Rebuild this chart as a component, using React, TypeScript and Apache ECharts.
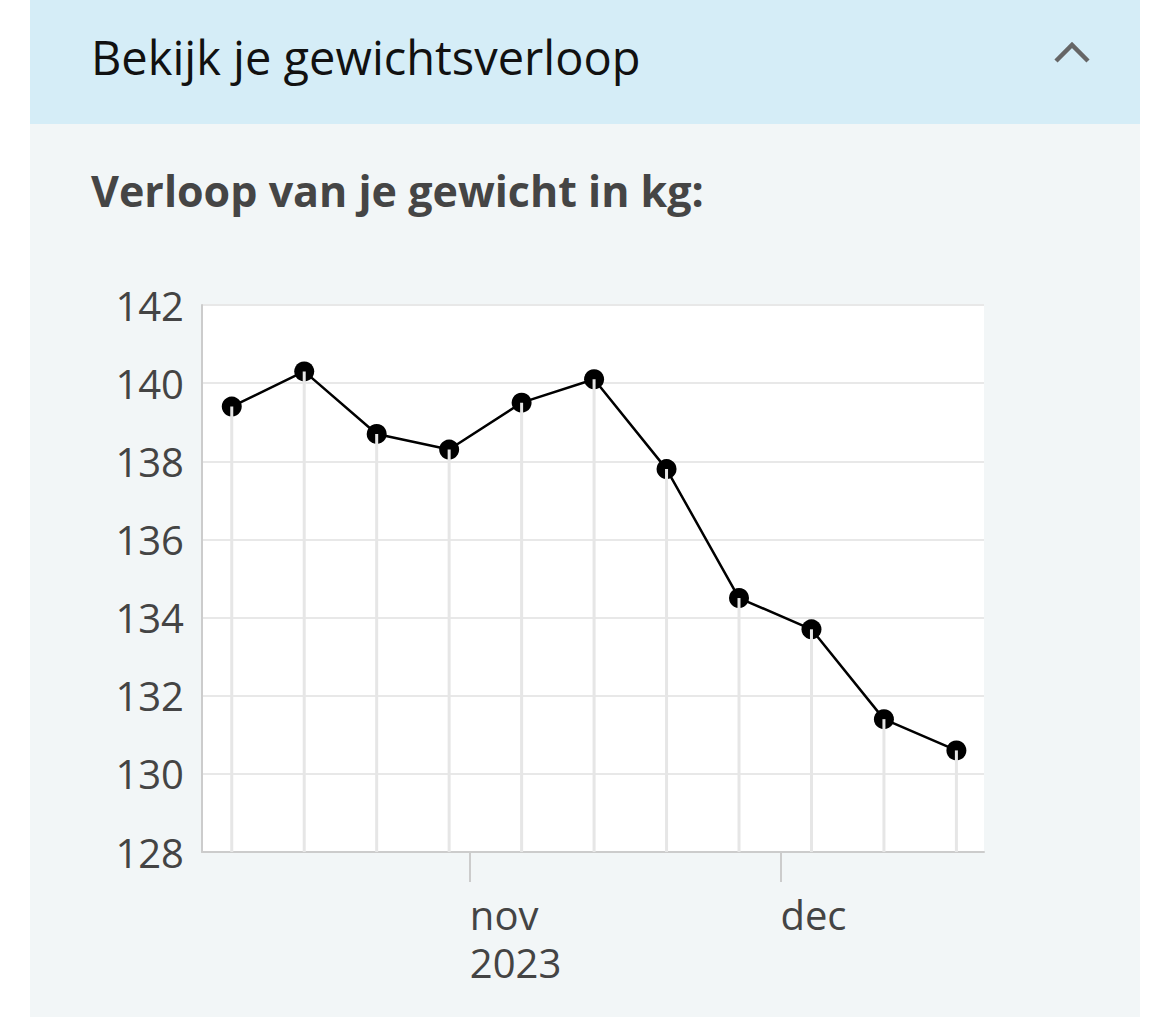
import React, { useEffect, useRef } from "react";
import * as echarts from "echarts";

const weighDates = [
  "2023-10-09", "2023-10-16", "2023-10-23", "2023-10-30", "2023-11-06", "2023-11-13",
  "2023-11-20", "2023-11-27", "2023-12-04", "2023-12-11", "2023-12-18",
];
const weights = [139.4, 140.3, 138.7, 138.3, 139.5, 140.1, 137.8, 134.5, 133.7, 131.4, 130.6];
const monthTicks = ["2023-11-01", "2023-12-01"];
const monthLabels = ["nov", "dec"];
const yearTicks = ["2023-11-01"];
const yearLabels = ["2023"];
const yMin = 128;
const yMax = 142;
const yStep = 2;

const toTs = (s: string, h = 0) => {
  const [y, m, d] = s.split("-").map(Number);
  return new Date(y, m - 1, d, h).getTime();
};

export default function App() {
  const ref = useRef<HTMLDivElement>(null);
  useEffect(() => {
    if (!ref.current) return;
    const chart = echarts.init(ref.current, null, { renderer: "svg" });
    const pts = weighDates.map((d, i) => [toTs(d), weights[i]]);
    const tickTs = monthTicks.map((d) => toTs(d));
    const yearTs = yearTicks.map((d) => toTs(d));
    const font = "'Open Sans', 'Noto Sans', sans-serif";
    const xMin = toTs("2023-10-06", 3);
    const xMax = toTs("2023-12-20", 16);
    chart.setOption({
      animation: false,
      backgroundColor: "#ffffff",
      graphic: [
        { type: "rect", shape: { x: 30, y: 0, width: 1110, height: 124 }, style: { fill: "#d5edf7" }, z: -10 },
        { type: "rect", shape: { x: 30, y: 124, width: 1110, height: 893 }, style: { fill: "#f2f6f7" }, z: -10 },
        {
          type: "text", x: 91, y: 57,
          style: { text: "Bekijk je gewichtsverloop", fill: "#111111", font: `400 47px ${font}`, verticalAlign: "middle", align: "left" },
        },
        {
          type: "polyline",
          shape: { points: [[1056, 61], [1072, 45], [1088, 61]] },
          style: { stroke: "#666666", lineWidth: 4.5, fill: null },
        },
        {
          type: "text", x: 91, y: 190,
          style: { text: "Verloop van je gewicht in kg:", fill: "#454545", font: `700 43px ${font}`, verticalAlign: "middle", align: "left" },
        },
      ],
      grid: {
        left: 202, top: 305, width: 782, height: 547,
        show: true, backgroundColor: "#ffffff", borderWidth: 0,
      },
      xAxis: [
        {
          type: "value",
          min: xMin,
          max: xMax,
          axisLine: { show: true, onZero: false, lineStyle: { color: "#cccccc", width: 2 } },
          axisTick: { show: true, length: 30, lineStyle: { color: "#cccccc", width: 2 }, customValues: tickTs },
          axisLabel: {
            customValues: tickTs,
            formatter: (v: number) => {
              const i = tickTs.indexOf(v);
              return i >= 0 ? monthLabels[i] : "";
            },
            color: "#444444", fontSize: 40, fontFamily: font, lineHeight: 48,
            align: "left", margin: 38, verticalAlign: "top", hideOverlap: false,
          },
          splitLine: { show: false },
        },
        {
          type: "value",
          position: "bottom",
          min: xMin,
          max: xMax,
          axisLine: { show: false, onZero: false },
          axisTick: { show: false },
          axisLabel: {
            customValues: yearTs,
            formatter: (v: number) => {
              const i = yearTs.indexOf(v);
              return i >= 0 ? yearLabels[i] : "";
            },
            color: "#444444", fontSize: 40, fontFamily: font, lineHeight: 48,
            align: "left", margin: 86, verticalAlign: "top", hideOverlap: false,
          },
          splitLine: { show: false },
        },
      ],
      yAxis: {
        type: "value",
        min: yMin, max: yMax, interval: yStep,
        axisLine: { show: true, lineStyle: { color: "#cccccc", width: 2 } },
        axisTick: { show: false },
        axisLabel: { color: "#444444", fontSize: 40, fontFamily: font, margin: 18 },
        splitLine: { show: true, lineStyle: { color: "#e8e8e8", width: 2 } },
      },
      series: [
        {
          type: "line",
          data: pts,
          symbol: "circle",
          symbolSize: 20,
          lineStyle: { color: "#000000", width: 2.5 },
          itemStyle: { color: "#000000" },
          z: 2,
        },
        {
          type: "custom",
          data: pts,
          z: 3,
          renderItem: (params: any, api: any) => {
            const p = api.coord([api.value(0), api.value(1)]);
            const b = api.coord([api.value(0), yMin]);
            return {
              type: "line",
              shape: { x1: p[0], y1: p[1], x2: b[0], y2: b[1] },
              style: { stroke: "#e6e6e6", lineWidth: 3 },
            };
          },
        },
      ],
    });
    return () => chart.dispose();
  }, []);
  return <div ref={ref} style={{ position: "fixed", left: 0, top: 0, width: 1170, height: 1017 }} />;
}
